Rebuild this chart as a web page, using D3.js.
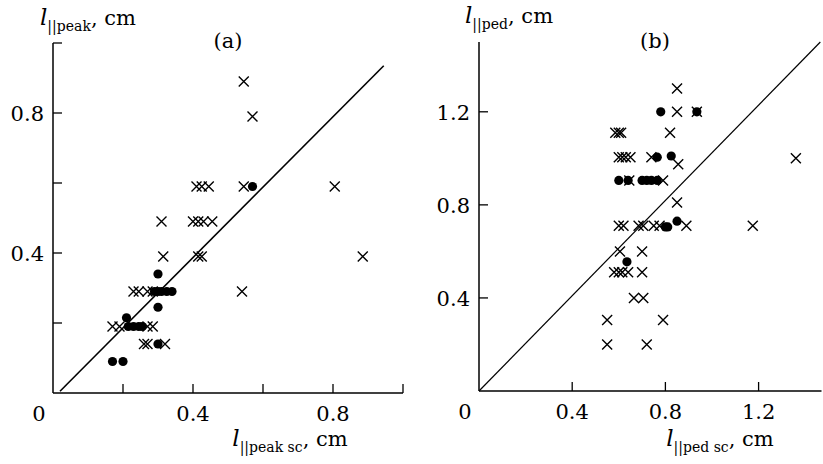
<!DOCTYPE html>
<html>
<head>
<meta charset="utf-8">
<script src="https://cdn.jsdelivr.net/npm/d3@7"></script>
<style>
  body { margin: 0; background: #fff; }
</style>
</head>
<body>
<svg id="chart" width="823" height="464"></svg>
<script>
// panel (a): l||peak vs l||peak sc
const crossesA = [
    [0.545, 0.89], [0.57, 0.79], [0.805, 0.59], [0.545, 0.59],
    [0.41, 0.59], [0.425, 0.59], [0.445, 0.59],
    [0.31, 0.49], [0.40, 0.49], [0.415, 0.49], [0.43, 0.49], [0.455, 0.49],
    [0.315, 0.39], [0.415, 0.39], [0.425, 0.39], [0.885, 0.39],
    [0.54, 0.29], [0.23, 0.29], [0.245, 0.29], [0.27, 0.29], [0.285, 0.29],
    [0.17, 0.19], [0.19, 0.19], [0.27, 0.19], [0.285, 0.19],
    [0.26, 0.14], [0.27, 0.14], [0.32, 0.14]
];
const dotsA = [
    [0.57, 0.59], [0.30, 0.34],
    [0.29, 0.29], [0.30, 0.29], [0.31, 0.29], [0.325, 0.29], [0.34, 0.29],
    [0.30, 0.245], [0.21, 0.215],
    [0.215, 0.19], [0.23, 0.19], [0.245, 0.19], [0.255, 0.19],
    [0.30, 0.14], [0.17, 0.09], [0.20, 0.09]
];
const lineA = [[0.02, 0.005], [0.945, 0.935]];
const ticksA = [0.2, 0.4, 0.6, 0.8, 1.0];
const labelsA = [0.4, 0.8];

// panel (b): l||ped vs l||ped sc
const crossesB = [
    [0.85, 1.30], [0.85, 1.20], [0.935, 1.20],
    [0.585, 1.11], [0.60, 1.11], [0.61, 1.11], [0.82, 1.11],
    [0.60, 1.005], [0.615, 1.005], [0.63, 1.005], [0.65, 1.005], [0.74, 1.005], [0.855, 0.975],
    [0.645, 0.905], [0.79, 0.905],
    [0.85, 0.81],
    [0.60, 0.71], [0.62, 0.71], [0.685, 0.71], [0.705, 0.71], [0.75, 0.71], [0.775, 0.71],
    [0.89, 0.71], [1.175, 0.71], [1.36, 1.0],
    [0.605, 0.60], [0.70, 0.60],
    [0.58, 0.51], [0.60, 0.51], [0.615, 0.51], [0.64, 0.51], [0.70, 0.51],
    [0.665, 0.40], [0.705, 0.40],
    [0.55, 0.305], [0.79, 0.305],
    [0.55, 0.20], [0.72, 0.20]
];
const dotsB = [
    [0.78, 1.20], [0.935, 1.20],
    [0.765, 1.005], [0.825, 1.01],
    [0.60, 0.905], [0.64, 0.905], [0.70, 0.905], [0.72, 0.905], [0.74, 0.905], [0.765, 0.905],
    [0.80, 0.705], [0.81, 0.705], [0.85, 0.73],
    [0.635, 0.555]
];
const lineB = [[0, 0], [1.465, 1.5]];
const ticksB = [0.4, 0.8, 1.2];
const labelsB = [0.4, 0.8, 1.2];

const FONT = "'DejaVu Serif', serif";
const FS = 21;
const svg = d3.select('#chart');

const crossPath = 'M-5,-5L5,5M-5,5L5,-5';

function drawPanel(opt) {
    const x = d3.scaleLinear().domain(opt.xDomain).range(opt.xRange);
    const y = d3.scaleLinear().domain(opt.yDomain).range(opt.yRange);
    const g = svg.append('g').style('font-family', FONT);

    // axes
    g.append('line')
        .attr('x1', x(0)).attr('x2', x(0))
        .attr('y1', y(0)).attr('y2', y(opt.yDomain[1]))
        .attr('stroke', '#000').attr('stroke-width', 1.5);
    g.append('line')
        .attr('x1', x(0)).attr('x2', x(opt.xDomain[1]))
        .attr('y1', y(0)).attr('y2', y(0))
        .attr('stroke', '#000').attr('stroke-width', 1.5);

    // ticks (inward)
    g.selectAll('.xt').data(opt.ticks).enter().append('line')
        .attr('x1', d => x(d)).attr('x2', d => x(d))
        .attr('y1', y(0)).attr('y2', y(0) - opt.tickLen)
        .attr('stroke', '#000').attr('stroke-width', 1.3);
    g.selectAll('.yt').data(opt.ticks).enter().append('line')
        .attr('x1', x(0)).attr('x2', x(0) + opt.tickLen)
        .attr('y1', d => y(d)).attr('y2', d => y(d))
        .attr('stroke', '#000').attr('stroke-width', 1.3);

    // tick labels
    g.selectAll('.xl').data(opt.labels).enter().append('text')
        .attr('x', d => x(d)).attr('y', y(0) + 28)
        .attr('text-anchor', 'middle').attr('font-size', FS)
        .text(d => d.toFixed(1));
    g.selectAll('.yl').data(opt.labels).enter().append('text')
        .attr('x', x(0) - 9).attr('y', d => y(d) + 8)
        .attr('text-anchor', 'end').attr('font-size', FS)
        .text(d => d.toFixed(1));
    g.append('text')
        .attr('x', x(0) - 14).attr('y', y(0) + 28)
        .attr('text-anchor', 'middle').attr('font-size', FS)
        .text('0');

    // fit line
    g.append('line')
        .attr('x1', x(opt.line[0][0])).attr('y1', y(opt.line[0][1]))
        .attr('x2', x(opt.line[1][0])).attr('y2', y(opt.line[1][1]))
        .attr('stroke', '#000').attr('stroke-width', opt.lineWidth);

    // markers
    g.selectAll('.cr').data(opt.crosses).enter().append('path')
        .attr('d', crossPath)
        .attr('transform', d => `translate(${x(d[0])},${y(d[1])})`)
        .attr('stroke', '#000').attr('stroke-width', 1.4).attr('fill', 'none');
    g.selectAll('.dt').data(opt.dots).enter().append('circle')
        .attr('cx', d => x(d[0])).attr('cy', d => y(d[1]))
        .attr('r', 4.6).attr('fill', '#000');

    // panel tag
    g.append('text')
        .attr('x', opt.tag[0]).attr('y', opt.tag[1])
        .attr('text-anchor', 'middle').attr('font-size', FS)
        .text(opt.tagText);

    // axis titles
    axisTitle(g, opt.yTitle[0], opt.yTitle[1], 'start', opt.yTitleSub);
    axisTitle(g, opt.xTitle[0], opt.xTitle[1], 'middle', opt.xTitleSub);
}

function axisTitle(g, px, py, anchor, sub) {
    const t = g.append('text')
        .attr('x', px).attr('y', py)
        .attr('text-anchor', anchor).attr('font-size', FS);
    t.append('tspan').attr('font-style', 'italic').attr('font-size', 23).text('l');
    t.append('tspan').attr('font-size', 14).attr('dy', 6).text(sub);
    t.append('tspan').attr('dy', -6).text(', cm');
}

drawPanel({
    xDomain: [0, 1.0], yDomain: [0, 1.0],
    xRange: [53, 403], yRange: [393, 43],
    ticks: ticksA, labels: labelsA, tickLen: 9,
    line: lineA, lineWidth: 1.6,
    crosses: crossesA, dots: dotsA,
    tag: [228, 48], tagText: '(a)',
    yTitle: [40, 25], yTitleSub: '||peak',
    xTitle: [290, 446], xTitleSub: '||peak sc'
});

drawPanel({
    xDomain: [0, 1.47], yDomain: [0, 1.5],
    xRange: [479, 821.5], yRange: [391, 42],
    ticks: ticksB, labels: labelsB, tickLen: 9,
    line: lineB, lineWidth: 1.2,
    crosses: crossesB, dots: dotsB,
    tag: [655, 48], tagText: '(b)',
    yTitle: [465, 23], yTitleSub: '||ped',
    xTitle: [720, 446], xTitleSub: '||ped sc'
});
</script>
</body>
</html>
